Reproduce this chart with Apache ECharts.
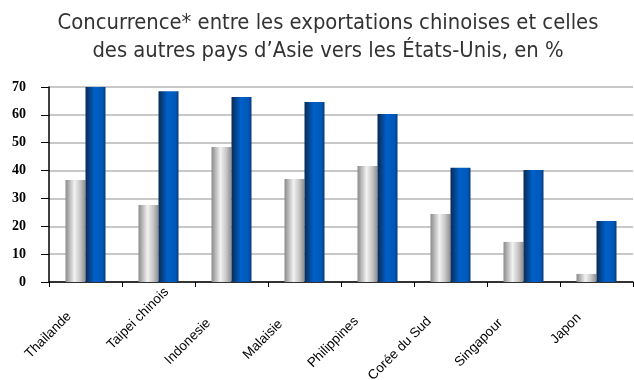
<!DOCTYPE html>
<html><head><meta charset="utf-8">
<script src="https://cdn.jsdelivr.net/npm/echarts@6/dist/echarts.min.js"></script>
<style>html,body{margin:0;padding:0;background:#fff}#c{width:634px;height:380px}</style>
</head><body><div id="c"></div>
<script>
const categories = ['Thailande','Taipei chinois','Indonesie','Malaisie','Philippines','Corée du Sud','Singapour','Japon'];
const grayValues = [36.6, 27.6, 48.5, 37.0, 41.6, 24.4, 14.4, 2.9];
const blueValues = [70.0, 68.5, 66.4, 64.6, 60.3, 41.0, 40.2, 21.9];
const yTicks = [0,10,20,30,40,50,60,70];
// label placement (style only): right padding and alignment per label
const labelPadRight = [23, 58, 32.5, 34, 30, 30, 32.5, 25];
const labelAlign = ['right','center','right','right','right','right','right','right'];

const grayGrad = {type:'linear',x:0,y:0,x2:1,y2:0,colorStops:[
  {offset:0,color:'#8a8a8a'},{offset:0.45,color:'#f2f2f2'},{offset:0.75,color:'#c4c4c4'},{offset:1,color:'#8c8c8c'}]};
const blueGrad = {type:'linear',x:0,y:0,x2:1,y2:0,colorStops:[
  {offset:0,color:'#0b2a55'},{offset:0.45,color:'#0060c8'},{offset:0.85,color:'#0058b8'},{offset:1,color:'#0a3a78'}]};

const catData = categories.map((c,i)=>({value:c,textStyle:{align:labelAlign[i],padding:[0,labelPadRight[i],0,0]}}));

const chart = echarts.init(document.getElementById('c'), null, {renderer:'canvas'});
chart.setOption({
  animation:false,
  title:{text:'Concurrence* entre les exportations chinoises et celles\ndes autres pays d\u2019Asie vers les États-Unis, en %',
    left:323, top:4, textAlign:'center',
    textStyle:{fontFamily:'Liberation Sans Narrow, DejaVu Sans Condensed, sans-serif',fontWeight:'normal',fontSize:21.8,lineHeight:28,color:'#333'}},
  grid:{left:49,right:1,top:87,bottom:98,containLabel:false,outerBoundsMode:'none'},
  xAxis:{type:'category',data:catData,
    axisLine:{lineStyle:{color:'#000',width:1.5}},
    axisTick:{show:true,length:5,lineStyle:{color:'#000'}},
    axisLabel:{rotate:45,interval:0,fontFamily:'Liberation Sans, Arial, sans-serif',fontSize:13.5,color:'#000',margin:16}},
  yAxis:{type:'value',min:yTicks[0],max:yTicks[yTicks.length-1],interval:10,
    axisLine:{show:true,lineStyle:{color:'#000',width:1.5}},
    axisTick:{show:true,length:8,lineStyle:{color:'#000'}},
    axisLabel:{fontFamily:'Liberation Serif, Times New Roman, serif',fontWeight:'bold',fontSize:14,color:'#000',margin:23},
    splitLine:{lineStyle:{color:'#c8c8c8',width:2}}},
  series:[
    {type:'bar',data:grayValues,barWidth:20,barGap:'0%',itemStyle:{color:grayGrad}},
    {type:'bar',data:blueValues,barWidth:20,barGap:'0%',itemStyle:{color:blueGrad}}
  ]
});
</script></body></html>
